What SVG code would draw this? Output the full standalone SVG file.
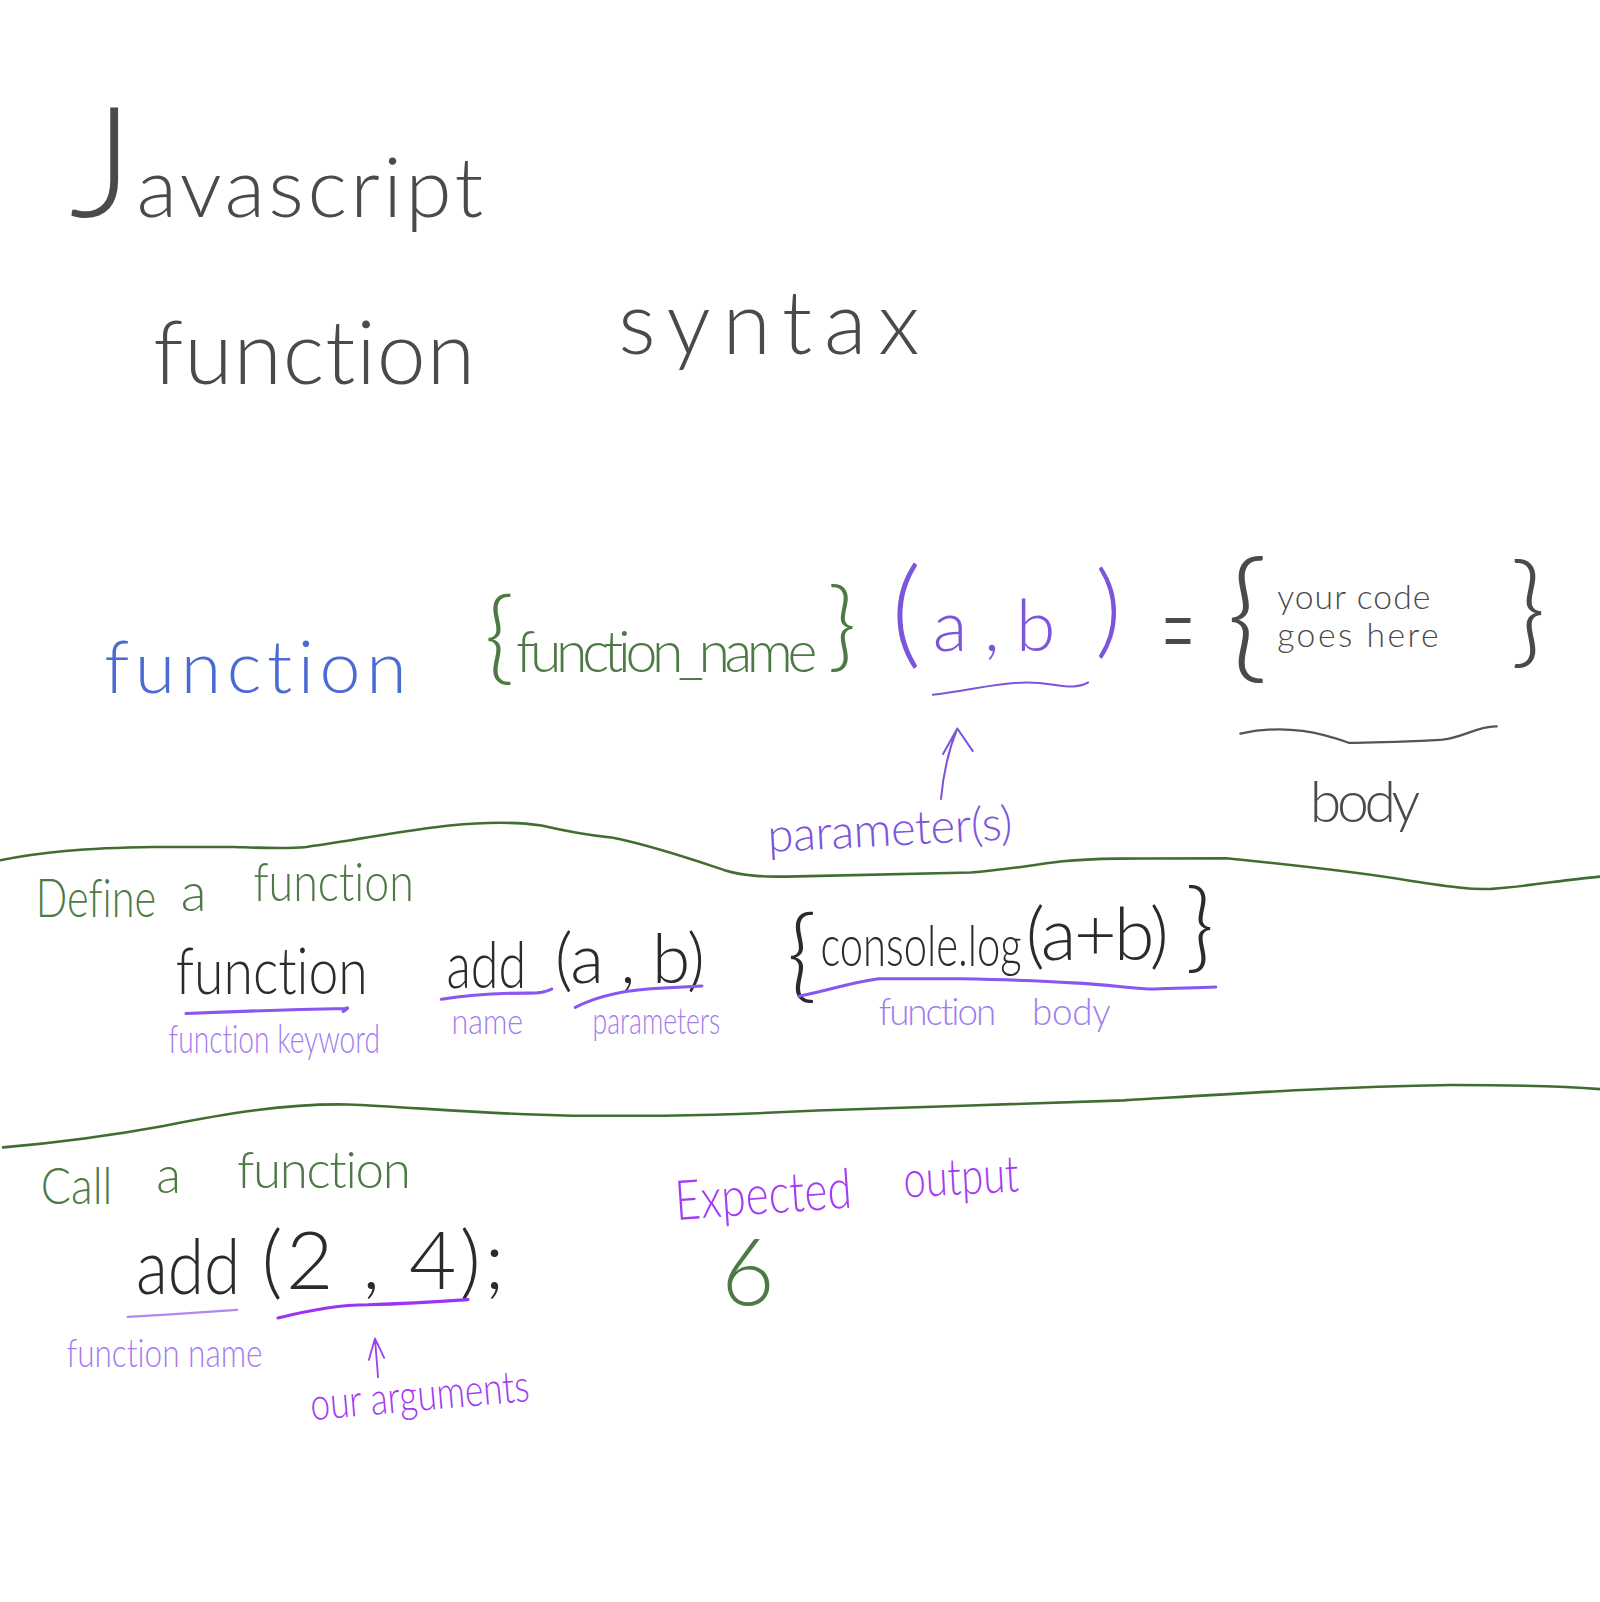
<svg xmlns="http://www.w3.org/2000/svg" width="1600" height="1602" viewBox="0 0 1600 1602">
<style>
text{font-family:"Lato","Open Sans","Liberation Sans",sans-serif;font-weight:300;font-variant-ligatures:none;font-feature-settings:"liga" 0,"clig" 0}
.gray{fill:#4a4a4a}
.blk{fill:#2b2b2b}
.blue{fill:#4a6bd3}
.grn{fill:#4d7a44}
.pur{fill:#7c55da}
.lpur{fill:#a27cf0}
.bpur{fill:#a33cf2}
.ln{fill:none;stroke-linecap:round;stroke-linejoin:round}
.div{stroke:#3f6e30;stroke-width:2.5}
.pl{stroke:#7c55da;stroke-width:2}
.gl{stroke:#555;stroke-width:2.2}
.ul{stroke:#8a55f2;stroke-width:3}
.lul{stroke:#b08af0;stroke-width:2.2}
</style>
<rect width="1600" height="1602" fill="#fff"/>
<g transform="scale(1.0217)">
<g id="title">
<text class="gray" x="68" y="212" font-size="82" textLength="405" lengthAdjust="spacing"><tspan font-size="150">J</tspan>avascript</text>
<text class="gray" x="150" y="376" font-size="86" textLength="315" lengthAdjust="spacing">function</text>
<text class="gray" x="605" y="346" font-size="86" textLength="295" lengthAdjust="spacing">syntax</text>
</g>
<g id="syntax-keyword">
<text class="blue" x="102" y="678" font-size="72" textLength="296" lengthAdjust="spacing">function</text>
</g>
<g id="syntax-name">
<text class="grn" x="474" y="657" font-size="100">{</text>
<text class="grn" x="505" y="658" font-size="56" textLength="295" lengthAdjust="spacing">function_name</text>
<text class="grn" x="810" y="645" font-size="96">}</text>
</g>
<g id="syntax-params">
<text class="pur" x="872" y="639" font-size="115">(</text>
<text class="pur" x="913" y="637" font-size="70" textLength="120" lengthAdjust="spacing">a , b</text>
<text class="pur" x="1072" y="631" font-size="100">)</text>
</g>
<g id="syntax-equals">
<text class="gray" x="1136" y="662" font-size="130" transform="translate(1136 0) scale(0.45 1) translate(-1136 0)">=</text>
</g>
<g id="syntax-body">
<text class="gray" x="1200" y="650" font-size="140">{</text>
<text class="gray" x="1250" y="596" font-size="33" textLength="150" lengthAdjust="spacing">your code</text>
<text class="gray" x="1250" y="633" font-size="33" textLength="158" lengthAdjust="spacing">goes here</text>
<text class="gray" x="1478" y="638" font-size="120">}</text>
</g>
<g id="label-body">
<text class="gray" x="1282" y="805" font-size="56" textLength="108" lengthAdjust="spacing">body</text>
</g>
<g id="label-parameters">
<text class="pur" x="752" y="834" font-size="46" textLength="240" lengthAdjust="spacing" transform="rotate(-3 752 834)">parameter(s)</text>
</g>
<g id="define-heading">
<text class="grn" x="0" y="0" font-size="52" transform="translate(35 898) scale(0.78 1)">Define</text>
<text class="grn" x="177" y="892" font-size="52">a</text>
<text class="grn" x="248" y="882" font-size="52" textLength="157" lengthAdjust="spacingAndGlyphs">function</text>
</g>
<g id="define-keyword">
<text class="blk" x="172" y="973" font-size="64" textLength="188" lengthAdjust="spacingAndGlyphs">function</text>
<text class="lpur" x="165" y="1031" font-size="38" textLength="207" lengthAdjust="spacingAndGlyphs">function keyword</text>
</g>
<g id="define-name">
<text class="blk" x="437" y="967" font-size="64" textLength="78" lengthAdjust="spacingAndGlyphs">add</text>
<text class="lpur" x="442" y="1012" font-size="34" textLength="70" lengthAdjust="spacingAndGlyphs">name</text>
</g>
<g id="define-params">
<text class="blk" x="543" y="962" font-size="68" textLength="147" lengthAdjust="spacing">(a , b)</text>
<text class="lpur" x="580" y="1012" font-size="36" textLength="125" lengthAdjust="spacingAndGlyphs">parameters</text>
</g>
<g id="define-body">
<text class="blk" x="770" y="968" font-size="100">{</text>
<text class="blk" x="0" y="0" font-size="56" transform="translate(803 945) scale(0.73 1)">console.log</text>
<text class="blk" x="1004" y="940" font-size="72" textLength="140" lengthAdjust="spacing">(a+b)</text>
<text class="blk" x="1160" y="940" font-size="96">}</text>
<text class="lpur" x="860" y="1003" font-size="36" textLength="115" lengthAdjust="spacing">function</text>
<text class="lpur" x="1010" y="1003" font-size="36" textLength="77" lengthAdjust="spacing">body</text>
</g>
<g id="call-heading">
<text class="grn" x="40" y="1178" font-size="50" textLength="70" lengthAdjust="spacingAndGlyphs">Call</text>
<text class="grn" x="153" y="1168" font-size="50">a</text>
<text class="grn" x="232" y="1163" font-size="50" textLength="170" lengthAdjust="spacing">function</text>
</g>
<g id="call-name">
<text class="blk" x="133" y="1267" font-size="76" textLength="102" lengthAdjust="spacingAndGlyphs">add</text>
<text class="lpur" x="65" y="1338" font-size="38" textLength="192" lengthAdjust="spacingAndGlyphs">function name</text>
</g>
<g id="call-args">
<text class="blk" x="256" y="1262" font-size="80" textLength="238" lengthAdjust="spacing">(2 , 4);</text>
<text class="bpur" x="305" y="1390" font-size="44" textLength="215" lengthAdjust="spacingAndGlyphs" transform="rotate(-5 305 1390)">our arguments</text>
</g>
<g id="expected-output">
<text class="bpur" x="662" y="1194" font-size="54" textLength="173" lengthAdjust="spacingAndGlyphs" transform="rotate(-4 662 1194)">Expected</text>
<text class="bpur" x="885" y="1172" font-size="50" textLength="113" lengthAdjust="spacingAndGlyphs" transform="rotate(-3 885 1172)">output</text>
<text class="grn" x="706" y="1277" font-size="90">6</text>
</g>
<g id="connectors">
<path class="ln div" d="M0,842 C40,834 80,830 150,829 L230,829 C260,830 280,831 300,829 C350,822 400,812 440,808 C480,804 510,805 530,808 C560,815 580,818 600,820 C640,828 680,842 710,852 C730,858 750,858 770,858 L950,854 C980,852 1000,848 1040,843 C1070,840 1100,840 1200,840 C1260,846 1320,852 1380,862 C1420,868 1440,871 1460,870 C1500,867 1530,861 1566,858"/>
<path class="ln div" d="M3,1123 C60,1118 100,1113 160,1102 C220,1090 280,1080 340,1081 C400,1083 460,1090 560,1092 L650,1092 C720,1091 760,1089 800,1087 C900,1083 1000,1081 1100,1077 C1200,1071 1300,1064 1420,1062 C1500,1062 1540,1064 1566,1066"/>
<path class="ln pl" d="M913,680 C950,676 975,668 1005,668 C1035,668 1048,677 1065,668"/>
<path class="ln pl" d="M921,782 C923,760 928,735 937,713 M923,738 L937,713 L952,735"/>
<path class="ln gl" d="M1214,718 C1260,708 1295,718 1320,727 C1350,727 1390,725 1412,724 C1432,722 1448,710 1465,711"/>
<path class="ln ul" d="M182,992 C230,990 290,988 338,987 C342,985 340,988 336,990"/>
<path class="ln ul" d="M432,978 C470,972 500,972 518,972 C530,972 536,970 540,968"/>
<path class="ln ul" d="M563,986 C590,972 620,968 650,967 L687,965"/>
<path class="ln ul" d="M782,975 C810,970 830,962 860,958 L940,958 C990,959 1020,960 1050,962 C1090,964 1110,968 1130,968 C1150,967 1170,967 1190,966"/>
<path class="ln lul" d="M125,1289 C160,1287 200,1284 232,1282"/>
<path class="ln ul" style="stroke:#9a33f5" d="M272,1290 C300,1283 330,1277 360,1277 C400,1276 430,1274 458,1272"/>
<path class="ln ul" style="stroke:#a040f0;stroke-width:1.8" d="M370,1348 L367,1310 M361,1331 L367,1310 L376,1329"/>
</g>
</g>
</svg>
